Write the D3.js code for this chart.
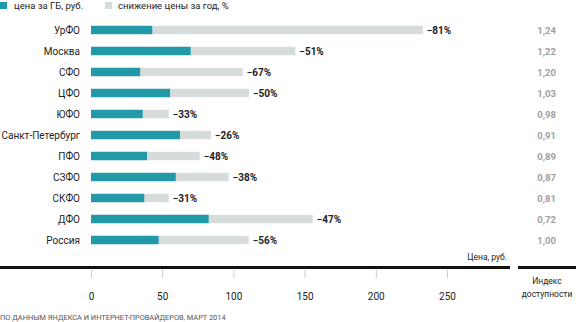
<!DOCTYPE html>
<html><head><meta charset="utf-8">
<script src="https://cdn.jsdelivr.net/npm/d3@7"></script>
<style>
body{margin:0;background:#fff;}
svg text{font-family:Roboto,"Open Sans",sans-serif;}
</style></head>
<body><svg id="c" width="576" height="322"></svg>
<script>
const regions = ["УрФО","Москва","СФО","ЦФО","ЮФО","Санкт-Петербург","ПФО","СЗФО","СКФО","ДФО","Россия"];
const price = [43,70,34.5,55.5,36.3,62.5,39.3,59.5,37.4,82.6,47.5];
const prevPrice = [233,143.5,106.5,111,54.6,84.3,76.3,96.7,54.6,155.7,110.7];
const decline = ["−81%","−51%","−67%","−50%","−33%","−26%","−48%","−38%","−31%","−47%","−56%"];
const accessIndex = ["1,24","1,22","1,20","1,03","0,98","0,91","0,89","0,87","0,81","0,72","1,00"];
const xTicks = [0,50,100,150,200,250];
const legendLabels = ["цена за ГБ, руб.","снижение цены за год, %"];

const teal="#2199a9", grey="#d6dcdc";
const svg=d3.select("#c");
const x=d3.scaleLinear().domain([0,250]).range([91,447]);
const y=d3.scaleBand().domain(regions).range([19.5,250.5]).paddingInner(0.6).paddingOuter(0.3);

// legend
const lg=svg.append("g");
[[0,teal,legendLabels[0],14],[105,grey,legendLabels[1],118]].forEach(([sx,col,t,tx])=>{
  lg.append("rect").attr("x",sx).attr("y",2).attr("width",7).attr("height",7).attr("fill",col);
  lg.append("text").attr("x",tx).attr("y",9).attr("font-size",9.5).attr("fill","#222").text(t);
});

const rows=svg.append("g").selectAll("g").data(regions).join("g");
rows.append("rect").attr("x",x(0)).attr("y",d=>y(d)).attr("height",y.bandwidth())
  .attr("width",(d,i)=>x(prevPrice[i])-x(0)).attr("fill",grey);
rows.append("rect").attr("x",x(0)).attr("y",d=>y(d)).attr("height",y.bandwidth())
  .attr("width",(d,i)=>x(price[i])-x(0)).attr("fill",teal);
rows.append("text").attr("x",80).attr("y",d=>y(d)+y.bandwidth()/2).attr("dy","0.35em")
  .attr("text-anchor","end").attr("font-size",10).attr("fill","#222").text(d=>d);
rows.append("text").attr("x",(d,i)=>x(prevPrice[i])+4).attr("y",d=>y(d)+y.bandwidth()/2).attr("dy","0.38em")
  .attr("font-size",10).attr("font-weight","bold").attr("fill","#222").text((d,i)=>decline[i]);
rows.append("text").attr("x",556).attr("y",d=>y(d)+y.bandwidth()/2).attr("dy","0.38em")
  .attr("text-anchor","end").attr("font-size",9.5).attr("font-weight","bold").attr("fill","#a0a0a0").text((d,i)=>accessIndex[i]);

// axis
svg.append("rect").attr("x",0).attr("y",266).attr("width",510).attr("height",3).attr("fill","#111");
svg.append("rect").attr("x",518).attr("y",266).attr("width",58).attr("height",3).attr("fill","#111");
const ax=svg.append("g").attr("transform","translate(0,270)")
  .call(d3.axisBottom(x).tickValues(xTicks).tickSize(8).tickPadding(15).tickFormat(d3.format("d")));
ax.select(".domain").remove();
ax.selectAll(".tick line").attr("stroke","#ccc");
ax.selectAll(".tick text").attr("font-size",10).attr("fill","#222").attr("font-family","Roboto,sans-serif");

svg.append("text").attr("x",507).attr("y",260).attr("text-anchor","end").attr("font-size",8.5).attr("fill","#222").text("Цена, руб.");
svg.append("text").attr("x",547).attr("y",284).attr("text-anchor","middle").attr("font-size",8.5).attr("fill","#222").text("Индекс");
svg.append("text").attr("x",547).attr("y",297).attr("text-anchor","middle").attr("font-size",8.5).attr("fill","#222").text("доступности");
svg.append("text").attr("x",0).attr("y",320).attr("font-size",7.4).attr("fill","#555").text("ПО ДАННЫМ ЯНДЕКСА И ИНТЕРНЕТ-ПРОВАЙДЕРОВ, МАРТ 2014");
</script></body></html>
